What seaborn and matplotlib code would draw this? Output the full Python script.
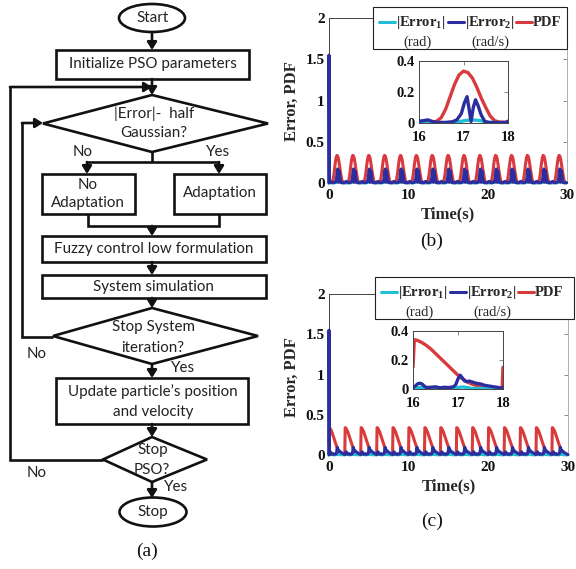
import numpy as np
import pandas as pd
import matplotlib
matplotlib.use("Agg")
import matplotlib.pyplot as plt
import seaborn as sns
from matplotlib.patches import Rectangle, Ellipse, Polygon
from matplotlib.lines import Line2D

# ---------------- data ----------------
# Panel (b): one 2-s cycle (offset from 16 s)
b_pdf_t = [0.0, 0.3, 0.4, 0.5, 0.6, 0.7, 0.8, 0.9, 1.0, 1.1, 1.2, 1.3, 1.4, 1.5, 1.6, 1.7, 1.8, 1.95]
b_pdf_v = [0.005, 0.006, 0.012, 0.035, 0.09, 0.17, 0.25, 0.31, 0.335, 0.325, 0.29, 0.23, 0.16, 0.10, 0.045, 0.015, 0.006, 0.005]
b_e2_t = [0.0, 0.1, 0.2, 0.3, 0.4, 0.6, 0.75, 0.85, 0.95, 1.02, 1.08, 1.12, 1.17, 1.22, 1.27, 1.33, 1.40, 1.48, 1.55, 1.7, 1.95]
b_e2_v = [0.012, 0.015, 0.02, 0.01, 0.004, 0.004, 0.008, 0.02, 0.06, 0.13, 0.17, 0.10, 0.01, 0.10, 0.15, 0.11, 0.05, 0.01, 0.004, 0.003, 0.003]
b_e1_t = [0.0, 0.6, 0.8, 0.9, 1.0, 1.1, 1.2, 1.3, 1.4, 1.5, 1.6, 1.95]
b_e1_v = [0.002, 0.002, 0.004, 0.008, 0.014, 0.018, 0.02, 0.018, 0.014, 0.008, 0.003, 0.002]

# Panel (c): one 2-s cycle (offset from 16 s)
c_pdf_t = [0.0, 0.03, 0.1, 0.2, 0.3, 0.4, 0.5, 0.6, 0.7, 0.8, 0.9, 1.0, 1.1, 1.2, 1.3, 1.4, 1.5, 1.6, 1.7, 1.8, 1.98]
c_pdf_v = [0.15, 0.34, 0.335, 0.32, 0.30, 0.275, 0.245, 0.215, 0.185, 0.155, 0.125, 0.095, 0.07, 0.05, 0.035, 0.025, 0.015, 0.01, 0.007, 0.005, 0.005]
c_e2_t = [0.0, 0.05, 0.1, 0.15, 0.2, 0.25, 0.3, 0.4, 0.5, 0.6, 0.7, 0.8, 0.9, 0.95, 1.0, 1.05, 1.1, 1.15, 1.2, 1.25, 1.3, 1.35, 1.4, 1.5, 1.6, 1.7, 1.8, 1.9, 1.98]
c_e2_v = [0.01, 0.02, 0.035, 0.04, 0.035, 0.02, 0.01, 0.012, 0.015, 0.008, 0.012, 0.01, 0.015, 0.03, 0.07, 0.095, 0.075, 0.055, 0.05, 0.055, 0.05, 0.045, 0.04, 0.035, 0.025, 0.02, 0.015, 0.01, 0.005]
c_e1_t = [0.0, 0.1, 0.2, 0.3, 0.4, 0.9, 1.0, 1.1, 1.2, 1.3, 1.98]
c_e1_v = [0.003, 0.008, 0.012, 0.008, 0.003, 0.003, 0.01, 0.014, 0.01, 0.004, 0.002]

cycle_period = 2.0
n_cycles = 15
# initial |Error2| spike at t = 0 (both panels)
spike_t = [0.0, 0.0, 0.03]
spike_v = [0.0, 1.55, 0.01]

main_xticks = [0, 10, 20, 30]
main_yticks = [0, 0.5, 1, 1.5, 2]
main_yticklabels = ["0", "0.5", "1", "1.5", "2"]
inset_window = (16, 18)
inset_xticks = [16, 17, 18]
inset_yticks = [0, 0.2, 0.4]
inset_yticklabels = ["0", "0.2", "0.4"]

legend_names = [r"$\mathbf{|Error_1|}$", r"$\mathbf{|Error_2|}$", "PDF"]
legend_units = ["(rad)", "(rad/s)", ""]

C_CYAN = "#20bfd6"
C_BLUE = "#2b2f9e"
C_RED = "#d93a3e"

# ---------------- style ----------------
sns.set_style("white")
plt.rcParams["font.family"] = ["Liberation Serif", "DejaVu Serif"]
plt.rcParams["mathtext.fontset"] = "custom"
plt.rcParams["mathtext.rm"] = "Liberation Serif"
plt.rcParams["mathtext.bf"] = "Liberation Serif:bold"
plt.rcParams["mathtext.it"] = "Liberation Serif:italic"

W, H = 576, 569
fig = plt.figure(figsize=(W / 100, H / 100), dpi=100)


def frac(x0, y0, x1, y1):
    return [x0 / W, 1 - y1 / H, (x1 - x0) / W, (y1 - y0) / H]


def build(cyc_t, cyc_v, prefix=None):
    ts, vs = [], []
    if prefix is not None:
        ts += list(prefix[0])
        vs += list(prefix[1])
    start = prefix[0][-1] if prefix is not None else -1
    for k in range(n_cycles):
        for t, v in zip(cyc_t, cyc_v):
            tt = k * cycle_period + t
            if tt > start:
                ts.append(tt)
                vs.append(v)
    return pd.DataFrame({"t": ts, "v": vs})


# ---------------- flowchart (panel a) ----------------
axf = fig.add_axes([0, 0, 1, 1])
axf.set_xlim(0, W)
axf.set_ylim(H, 0)
axf.axis("off")

LW = 1.9
FC = "#111111"
ffont = dict(family=["Lato", "DejaVu Sans"], fontsize=10.9, color="#222222", ha="center", va="center")


def box(x0, y0, x1, y1):
    axf.add_patch(Rectangle((x0, y0), x1 - x0, y1 - y0, fill=False, lw=LW, ec=FC))


def diamond(cx, top, bot, left, right):
    cy = (top + bot) / 2
    axf.add_patch(Polygon([(cx, top), (right, cy), (cx, bot), (left, cy)], closed=True,
                          fill=False, lw=LW, ec=FC, joinstyle="miter"))


def arrow(x0, y0, x1, y1):
    axf.annotate("", xy=(x1, y1), xytext=(x0, y0),
                 arrowprops=dict(arrowstyle="-|>,head_length=0.45,head_width=0.28", lw=LW,
                                 color=FC, shrinkA=0, shrinkB=0))


def poly(xs, ys):
    axf.plot(xs, ys, color=FC, lw=LW, solid_joinstyle="miter", solid_capstyle="butt")


def txt(x, y, s, **kw):
    d = dict(ffont)
    d.update(kw)
    axf.text(x, y, s, **d)


axf.add_patch(Ellipse((152, 18), 66, 28, fill=False, lw=LW, ec=FC))
txt(153, 18, "Start")
arrow(152, 32, 152, 50)
box(56, 50, 249, 79)
txt(153, 64, "Initialize PSO parameters")
arrow(152, 79, 152, 95)
# outer loop (Stop PSO -> top)
poly([103, 10, 10], [460, 460, 87])
arrow(10, 87, 152, 87)
diamond(152, 95, 152, 43, 268)
txt(154, 114, "|Error|-  half")
txt(154, 133, "Gaussian?")
# inner loop (Stop system iteration -> diamond 1)
poly([53, 22, 22], [337, 337, 123])
arrow(22, 123, 43, 123)
poly([152, 152], [152, 162])
poly([87, 219], [162, 162])
arrow(87, 162, 87, 174)
arrow(219, 162, 219, 174)
txt(83, 152, "No")
txt(218, 152, "Yes")
box(42, 174, 135, 214)
txt(88, 185, "No")
txt(88, 203, "Adaptation")
box(174, 174, 266, 214)
txt(220, 193, "Adaptation")
poly([88, 88, 219, 219], [214, 226, 226, 214])
arrow(152, 226, 152, 236)
box(42, 236, 266, 262)
txt(154, 249, "Fuzzy control low formulation")
arrow(152, 262, 152, 275)
box(42, 275, 266, 298)
txt(153, 287, "System simulation")
arrow(152, 298, 152, 308)
diamond(152, 308, 364, 53, 258)
txt(153, 327, "Stop System")
txt(153, 348, "iteration?")
txt(37, 354, "No")
txt(183, 368, "Yes")
arrow(152, 364, 152, 378)
box(56, 378, 248, 424)
txt(153, 392, "Update particle\u2019s position")
txt(153, 412, "and velocity")
arrow(152, 424, 152, 437)
diamond(152, 437, 482, 103, 207)
txt(153, 450, "Stop")
txt(152, 470, "PSO?")
txt(37, 473, "No")
txt(176, 487, "Yes")
arrow(152, 482, 152, 498)
axf.add_patch(Ellipse((153, 512), 67, 29, fill=False, lw=LW, ec=FC))
txt(153, 512, "Stop")

cap = dict(fontsize=14, fontweight="normal", ha="center", va="center", color="#111111")
axf.text(147, 551, "(a)", **cap)
axf.text(432, 241, "(b)", **cap)
axf.text(432, 521, "(c)", **cap)


# ---------------- plots (panels b and c) ----------------
def style_axes(ax, xticks, yticks, yticklabels, xlim, ylim, fs, main=True):
    ax.set_xlim(*xlim)
    ax.set_ylim(*ylim)
    ax.set_xticks(xticks)
    ax.set_xticklabels([str(x) for x in xticks])
    ax.set_yticks(yticks)
    ax.set_yticklabels(yticklabels)
    ax.tick_params(direction="in", length=3, width=0.6, colors="#777777", labelcolor="#111111",
                   top=True, right=True, labelsize=fs, pad=3)
    ax.tick_params(axis="x", pad=4.5 if main else 5.5)
    for lab in ax.get_xticklabels() + ax.get_yticklabels():
        lab.set_fontweight("bold")
    for side, sp in ax.spines.items():
        sp.set_visible(True)
        sp.set_linewidth(0.7)
        sp.set_color("#444444")
    if main:
        ax.spines["right"].set_color("#b0b0b0")
        ax.spines["bottom"].set_color("#b0b0b0")
    ax.set_xlabel("")
    ax.set_ylabel("")


panels = [
    dict(pdf=(b_pdf_t, b_pdf_v), e1=(b_e1_t, b_e1_v), e2=(b_e2_t, b_e2_v),
         main=(329, 18, 567, 183), inset=(419, 61, 508, 123), ylab_y=101,
         leg=(373, 7, 567, 49)),
    dict(pdf=(c_pdf_t, c_pdf_v), e1=(c_e1_t, c_e1_v), e2=(c_e2_t, c_e2_v),
         main=(329, 294, 568, 455), inset=(413, 331, 503, 389), ylab_y=377,
         leg=(375, 277, 574, 319)),
]

for p in panels:
    d_pdf = build(*p["pdf"])
    d_e1 = build(*p["e1"])
    d_e2 = build(*p["e2"], prefix=(spike_t, spike_v))

    ax = fig.add_axes(frac(*p["main"]))
    sns.lineplot(data=d_pdf, x="t", y="v", ax=ax, color=C_RED, lw=2.2, sort=False, estimator=None,
                 zorder=2, clip_on=False)
    sns.lineplot(data=d_e1, x="t", y="v", ax=ax, color=C_CYAN, lw=2.2, sort=False, estimator=None,
                 zorder=3, clip_on=False)
    sns.lineplot(data=d_e2, x="t", y="v", ax=ax, color=C_BLUE, lw=2.2, sort=False, estimator=None,
                 zorder=4, clip_on=False)
    style_axes(ax, main_xticks, main_yticks, main_yticklabels, (0, 30), (0, 2), 11)
    ax.set_xlabel("Time(s)", fontsize=12, fontweight="bold", labelpad=3)
    fig.text(292 / W, 1 - p["ylab_y"] / H, "Error, PDF", rotation=90, fontsize=12, fontweight="bold",
             ha="center", va="center")

    lo, hi = inset_window
    axi = fig.add_axes(frac(*p["inset"]))
    axi.set_facecolor("white")
    for d, c, z in [(d_pdf, C_RED, 2), (d_e1, C_CYAN, 3), (d_e2, C_BLUE, 4)]:
        w = d[(d["t"] >= lo) & (d["t"] <= hi)]
        sns.lineplot(data=w, x="t", y="v", ax=axi, color=c, lw=2.4, sort=False, estimator=None, zorder=z)
    style_axes(axi, inset_xticks, inset_yticks, inset_yticklabels, (lo, hi), (0, 0.4), 10.5, main=False)

# ---------------- legends (overlay) ----------------
axo = fig.add_axes([0, 0, 1, 1])
axo.set_xlim(0, W)
axo.set_ylim(H, 0)
axo.axis("off")
axo.patch.set_alpha(0)

for p in panels:
    x0, y0, x1, y1 = p["leg"]
    axo.add_patch(Rectangle((x0, y0), x1 - x0, y1 - y0, fc="white", ec="#222222", lw=0.8))
    ya = y0 + 15
    yb = y0 + 35
    hx = [x0 + 6, x0 + 75, x0 + 143]
    colors = [C_CYAN, C_BLUE, C_RED]
    for i in range(3):
        axo.add_line(Line2D([hx[i], hx[i] + 16], [ya, ya], color=colors[i], lw=2.2))
        axo.text(hx[i] + 17, ya, legend_names[i], fontsize=10.5, fontweight="bold", ha="left", va="center")
    axo.text(x0 + 45, yb, legend_units[0], fontsize=10.5, fontweight="normal", ha="center", va="center")
    axo.text(x0 + 117, yb, legend_units[1], fontsize=10.5, fontweight="normal", ha="center", va="center")

fig.savefig("out.png", dpi=100)
